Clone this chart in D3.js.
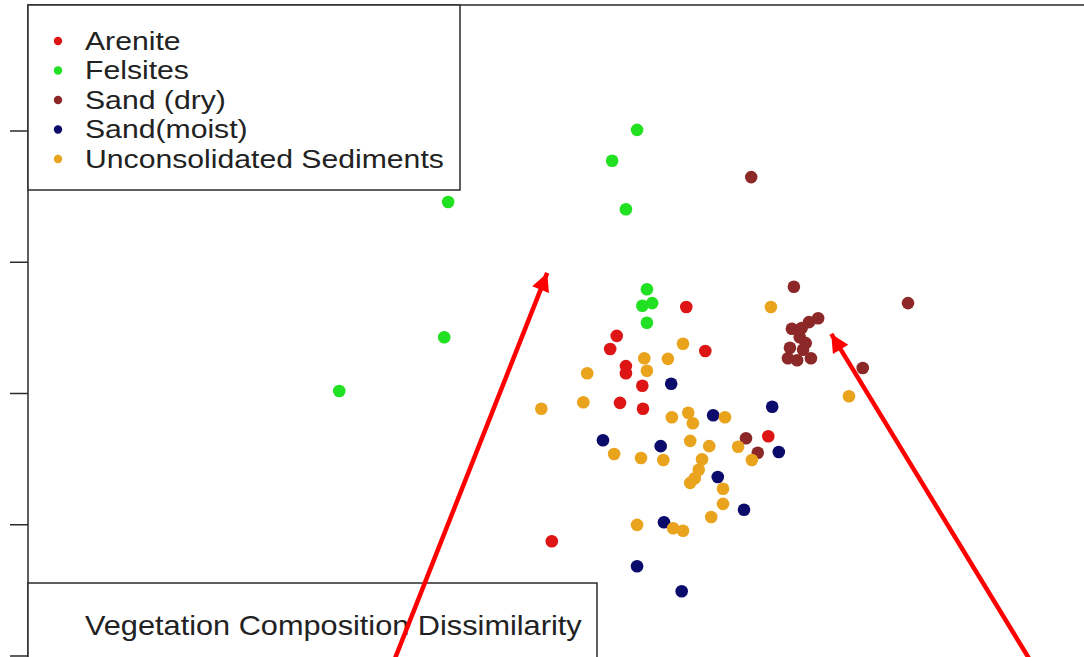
<!DOCTYPE html>
<html>
<head>
<meta charset="utf-8">
<script src="https://cdn.jsdelivr.net/npm/d3@7"></script>
<style>
  body { margin: 0; background: #fff; }
  svg { display: block; }
  text { font-family: "Liberation Sans", Arimo, Arial, sans-serif; }
</style>
</head>
<body>
<div id="chart"></div>
<script>
const kWidth = 1084;
const kHeight = 657;

const groups = ["Arenite", "Felsites", "Sand (dry)", "Sand(moist)", "Unconsolidated Sediments"];
const groupColors = ["#dd1515", "#22e022", "#8c2828", "#0b0b6b", "#e9a31c"];

const yTicks = [-0.4, -0.2, 0.0, 0.2, 0.4];

// NMDS-style coordinates
const arenite = [
  [0.005, 0.131], [-0.101, 0.087], [-0.111, 0.067], [-0.087, 0.041], [-0.087, 0.030],
  [-0.062, 0.011], [-0.096, -0.015], [-0.061, -0.024], [0.034, 0.064], [0.130, -0.066],
  [-0.200, -0.226]
];
const felsites = [
  [-0.070, 0.401], [-0.108, 0.354], [-0.087, 0.280], [-0.358, 0.291], [-0.364, 0.085],
  [-0.524, 0.003], [-0.055, 0.158], [-0.062, 0.133], [-0.047, 0.137], [-0.055, 0.107]
];
const sandDry = [
  [0.104, 0.329], [0.169, 0.162], [0.343, 0.137], [0.274, 0.038], [0.206, 0.114],
  [0.192, 0.108], [0.181, 0.099], [0.166, 0.098], [0.178, 0.085], [0.187, 0.076],
  [0.163, 0.069], [0.183, 0.066], [0.160, 0.053], [0.174, 0.050], [0.195, 0.053],
  [0.096, -0.069], [0.114, -0.091]
];
const sandMoist = [
  [-0.018, 0.014], [0.046, -0.034], [0.136, -0.021], [-0.122, -0.072], [-0.034, -0.081],
  [0.146, -0.090], [0.053, -0.128], [0.093, -0.178], [-0.029, -0.197], [-0.070, -0.264],
  [-0.002, -0.302]
];
const unconsolidated = [
  [0.134, 0.131], [0.253, -0.005], [-0.216, -0.024], [-0.152, -0.014], [-0.146, 0.030],
  [0.000, 0.075], [-0.059, 0.053], [-0.023, 0.052], [-0.055, 0.034], [-0.017, -0.037],
  [0.008, -0.030], [0.015, -0.046], [0.064, -0.037], [0.011, -0.073], [0.040, -0.081],
  [0.084, -0.082], [0.105, -0.102], [-0.105, -0.093], [-0.064, -0.099], [-0.030, -0.102],
  [0.029, -0.101], [0.024, -0.117], [0.018, -0.130], [0.011, -0.137], [0.061, -0.146],
  [0.061, -0.169], [0.043, -0.189], [-0.070, -0.201], [-0.015, -0.206], [0.000, -0.210]
];
const seriesValues = [arenite, felsites, sandDry, sandMoist, unconsolidated];

// red annotation arrows: [tailX, tailY, tipX, tipY]
const arrows = [
  [-0.442, -0.412, -0.207, 0.183],
  [0.532, -0.412, 0.226, 0.090]
];

const svg = d3.select("#chart")
  .append("svg")
  .attr("width", kWidth)
  .attr("height", kHeight);

const x = d3.scaleLinear()
  .domain([-0.5, 0.5])
  .range([355, 1011]);

const y = d3.scaleLinear()
  .domain([-0.4, 0.4])
  .range([655.5, 130.5]);

const plotLeft = 28;
const plotTop = 5;

// stretch a text horizontally so it spans the given width
function fitWidth(sel, width)
{
  const w = sel.node().getComputedTextLength();
  return width / w;
}

// plot frame (continues past the crop)
svg.append("rect")
  .attr("x", plotLeft)
  .attr("y", plotTop)
  .attr("width", kWidth)
  .attr("height", kHeight)
  .attr("fill", "none")
  .attr("stroke", "#2b2b2b")
  .attr("stroke-width", 1.5);

const yAxis = d3.axisLeft(y)
  .tickValues(yTicks)
  .tickSize(18)
  .tickFormat("");

svg.append("g")
  .attr("transform", `translate(${plotLeft}, 0)`)
  .call(yAxis)
  .call(g => g.select(".domain").remove())
  .call(g => g.selectAll("line").attr("stroke", "#2b2b2b").attr("stroke-width", 1.5));

// points
seriesValues.forEach((vals, i) => {
  svg.append("g")
    .selectAll("circle")
    .data(vals)
    .enter()
    .append("circle")
    .attr("cx", d => x(d[0]))
    .attr("cy", d => y(d[1]))
    .attr("r", 6.3)
    .attr("fill", groupColors[i]);
});

// legend
const legend = svg.append("g");
legend.append("rect")
  .attr("x", plotLeft)
  .attr("y", plotTop)
  .attr("width", 432)
  .attr("height", 185)
  .attr("fill", "#fff")
  .attr("stroke", "#2b2b2b")
  .attr("stroke-width", 1.5);

const legendTexts = [];
groups.forEach((name, i) => {
  const cy = 41 + i * 29.5;
  legend.append("circle")
    .attr("cx", 58)
    .attr("cy", cy)
    .attr("r", 4.2)
    .attr("fill", groupColors[i]);
  const t = legend.append("text")
    .attr("y", cy + 9)
    .attr("font-size", 26)
    .attr("fill", "#222")
    .text(name);
  legendTexts.push(t);
});
const sx = fitWidth(legendTexts[legendTexts.length - 1], 359);
legendTexts.forEach(t => t.attr("transform", `translate(85, 0) scale(${sx}, 1)`));

// lower label box
svg.append("rect")
  .attr("x", plotLeft)
  .attr("y", 583)
  .attr("width", 569)
  .attr("height", 100)
  .attr("fill", "#fff")
  .attr("stroke", "#2b2b2b")
  .attr("stroke-width", 1.5);

const title = svg.append("text")
  .attr("y", 635)
  .attr("font-size", 28)
  .attr("fill", "#222")
  .text("Vegetation Composition Dissimilarity");
title.attr("transform", `translate(85, 0) scale(${fitWidth(title, 497)}, 1)`);

// arrows
svg.append("defs")
  .append("marker")
  .attr("id", "head")
  .attr("viewBox", "0 0 10 10")
  .attr("refX", 10)
  .attr("refY", 5)
  .attr("markerWidth", 5)
  .attr("markerHeight", 4)
  .attr("markerUnits", "strokeWidth")
  .attr("orient", "auto")
  .append("path")
  .attr("d", "M0,0 L10,5 L0,10 z")
  .attr("fill", "#ff0000");

svg.append("g")
  .selectAll("line")
  .data(arrows)
  .enter()
  .append("line")
  .attr("x1", d => x(d[0]))
  .attr("y1", d => y(d[1]))
  .attr("x2", d => x(d[2]))
  .attr("y2", d => y(d[3]))
  .attr("stroke", "#ff0000")
  .attr("stroke-width", 4.5)
  .attr("marker-end", "url(#head)");
</script>
</body>
</html>
